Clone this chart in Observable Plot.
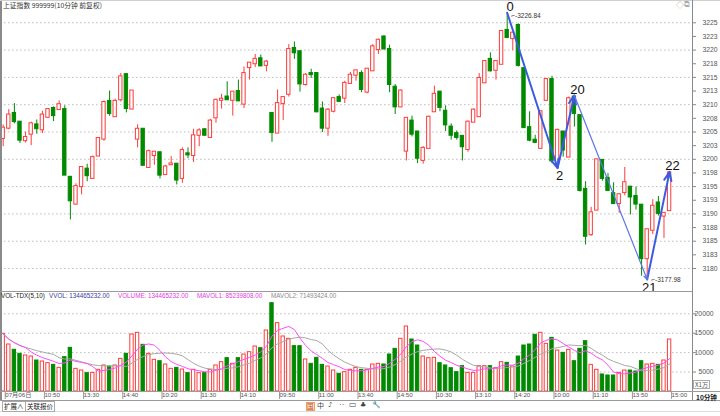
<!DOCTYPE html>
<html><head><meta charset="utf-8">
<script src="https://cdn.jsdelivr.net/npm/d3@7"></script>
<script src="https://cdn.jsdelivr.net/npm/@observablehq/plot@0.6"></script>
<style>
body{margin:0;background:#fff;}
#root{position:relative;width:720px;height:416px;overflow:hidden;background:#fff;font-family:"Liberation Sans","Noto Sans CJK SC",sans-serif;}
.abs{position:absolute;white-space:nowrap;line-height:1;}
.ln{position:absolute;}
#root svg{position:absolute;left:0;}
</style></head><body><div id="root"></div>
<script>
// ---- data (10-minute candles, 5 trading days, 120 bars) ----
const opens = [3203.8,3205.7,3208.4,3206.8,3203.4,3204.6,3206.3,3205.4,3207.7,3209.3,3209.1,3209.1,3196.7,3191.8,3195.0,3198.2,3196.5,3200.6,3203.7,3210.6,3207.8,3210.9,3215.5,3209.2,
3203.7,3205.5,3198.5,3200.7,3201.2,3197.2,3199.0,3199.1,3196.5,3201.0,3200.7,3204.4,3205.4,3204.0,3207.6,3210.8,3211.4,3210.8,3212.4,3210.1,3216.8,3217.5,3218.4,3217.2,
3208.4,3204.8,3210.2,3211.9,3220.3,3219.7,3213.7,3215.7,3215.7,3209.2,3205.7,3208.8,3211.3,3211.2,3213.9,3215.4,3215.7,3212.3,3216.2,3220.1,3222.4,3220.1,3213.2,3209.6,
3201.5,3207.0,3205.0,3199.8,3202.0,3208.7,3212.3,3208.8,3205.9,3204.7,3204.2,3201.8,3206.8,3207.8,3214.0,3218.3,3216.3,3217.4,3223.6,3222.1,3224.5,3216.6,3205.8,3203.5,
3202.0,3210.8,3214.6,3199.2,3205.0,3200.4,3211.4,3208.0,3194.5,3186.2,3190.7,3199.8,3196.5,3193.7,3191.9,3193.9,3194.9,3193.2,3191.6,3181.8,3187.0,3192.0,3189.6,3190.6];
const highs = [3206.3,3209.1,3210.2,3206.8,3205.0,3206.8,3207.2,3208.8,3209.3,3209.6,3210.7,3209.8,3196.8,3195.5,3198.6,3199.1,3200.6,3204.0,3210.7,3212.5,3211.0,3215.7,3215.7,3212.5,
3206.3,3205.5,3201.7,3201.3,3201.2,3198.9,3200.5,3199.1,3202.1,3202.1,3205.5,3205.6,3205.6,3207.3,3211.0,3211.9,3214.2,3212.3,3214.5,3216.9,3217.7,3219.2,3219.1,3218.1,
3208.4,3212.7,3211.3,3221.0,3221.5,3219.8,3215.7,3216.5,3215.7,3210.5,3209.3,3211.3,3211.8,3214.3,3215.9,3216.3,3216.2,3216.5,3221.0,3222.0,3222.6,3220.9,3213.7,3212.7,
3207.5,3207.9,3205.0,3202.3,3207.9,3213.4,3212.3,3209.8,3206.5,3205.2,3204.2,3207.0,3209.2,3215.7,3218.1,3219.5,3218.0,3223.6,3226.84,3223.1,3224.8,3216.6,3208.7,3204.4,
3208.7,3214.8,3215.2,3205.5,3205.1,3211.4,3211.7,3208.0,3195.9,3191.2,3199.9,3199.9,3197.4,3195.7,3193.7,3198.5,3194.9,3194.9,3191.6,3187.1,3192.6,3193.2,3190.2,3197.7];
const lows = [3202.3,3205.4,3206.5,3202.9,3203.0,3202.5,3204.6,3204.7,3207.5,3206.9,3209.0,3197.1,3188.9,3191.6,3193.5,3195.9,3196.4,3200.5,3203.3,3207.9,3207.8,3210.5,3208.5,3209.1,
3202.1,3198.9,3198.4,3198.9,3196.4,3197.1,3198.9,3195.3,3195.6,3200.1,3199.4,3202.3,3204.3,3203.8,3206.6,3209.2,3210.8,3207.9,3210.6,3209.3,3214.5,3216.8,3217.0,3216.0,
3203.1,3204.8,3207.1,3211.4,3218.3,3212.3,3213.4,3214.8,3208.5,3204.9,3204.2,3208.5,3210.5,3210.2,3213.7,3214.3,3212.2,3212.0,3216.2,3219.2,3220.1,3212.2,3208.2,3209.5,
3199.7,3204.1,3199.2,3199.1,3202.0,3208.7,3208.7,3205.1,3203.5,3203.5,3199.7,3201.3,3206.8,3207.8,3213.9,3216.0,3214.5,3217.4,3222.1,3219.9,3216.9,3205.8,3203.2,3202.9,
3202.0,3210.6,3199.2,3198.4,3200.4,3200.4,3205.9,3194.0,3184.3,3185.9,3190.6,3196.0,3194.2,3191.8,3190.1,3193.3,3189.8,3190.7,3178.6,3177.98,3186.2,3189.6,3185.5,3190.6];
const closes = [3205.7,3208.1,3206.9,3203.5,3204.0,3206.5,3205.6,3208.1,3209.1,3208.0,3210.0,3197.1,3192.4,3195.0,3198.5,3197.0,3200.3,3203.8,3210.4,3208.4,3210.6,3215.1,3209.3,3212.5,
3205.5,3198.9,3201.4,3201.3,3197.1,3198.6,3199.15,3196.2,3201.6,3200.8,3204.3,3205.2,3204.4,3207.0,3210.8,3211.0,3210.9,3212.3,3210.7,3215.7,3217.6,3218.3,3217.1,3217.8,
3204.9,3210.2,3211.3,3220.1,3219.5,3213.8,3215.4,3215.5,3208.7,3205.7,3209.0,3211.1,3210.6,3213.9,3215.4,3216.2,3212.8,3216.5,3220.6,3221.8,3220.2,3213.7,3209.6,3212.5,
3207.5,3204.6,3200.2,3202.0,3207.7,3211.9,3209.5,3206.3,3204.4,3204.0,3202.3,3206.8,3209.0,3214.8,3217.9,3216.2,3217.9,3223.4,3222.3,3223.1,3217.2,3205.8,3203.5,3203.1,
3208.7,3214.6,3199.7,3205.3,3201.7,3211.1,3208.4,3194.3,3185.9,3190.2,3199.9,3196.5,3194.3,3191.9,3193.5,3195.7,3193.1,3191.8,3181.8,3187.1,3191.4,3190.1,3190.1,3197.5];
// volume, unit: 万 (x1万)
const volumes = [14840,12100,10730,9700,9270,9000,7980,7720,7300,6860,6090,8840,11240,5830,5400,4720,4800,5580,6700,6430,6700,8400,9700,14670,
15100,12010,9700,8150,7800,6950,5830,6090,5660,4720,5580,4720,4720,5580,6700,7550,8580,7120,8580,9520,10120,11580,11150,15700,
22740,17590,14160,13560,11670,11670,8240,7120,8670,6860,6430,5400,4550,4980,5580,6090,5580,5580,6950,7120,6950,9520,10980,13560,
16730,13380,11840,9000,8580,8670,7300,6700,6000,4980,6520,4800,4800,6520,6520,6520,6000,7550,7380,6430,9000,11840,12100,14590,
15100,12270,13810,10550,9950,10720,7800,10980,12950,6860,5580,4380,4120,4120,4800,5400,5400,5150,7800,6950,7120,6860,7980,13380];

const priceTicks = [3180,3182.5,3185,3187.5,3190,3192.5,3195,3197.5,3200,3202.5,3205,3207.5,3210,3212.5,3215,3217.5,3220,3222.5,3225];
const priceTickLabels = ["3180","3183","3185","3188","3190","3193","3195","3198","3200","3203","3205","3208","3210","3213","3215","3218","3220","3223","3225"];
const priceGrid = [3180,3185,3190,3195,3200,3205,3210,3215,3220,3225];
const volTicks = [5000,10000,15000,20000];
const volTickLabels = ["5000","10000","15000","20000"];
const timeTicks = [0,7,14,21,28,35,42,49,56,63,70,77,84,91,98,105,112,119];
const timeLabels = ["07月06日","10:50","13:30","14:40","10:20","11:30","14:10","09:50","11:00","13:40","14:50","10:30","13:10","14:20","10:00","11:10","13:50","15:00"];

// zig-zag wave marks
const waveLabels = ["0","2","20","21","22"];
const waveIdx = [90,99,102,115,119];
const wavePrice = [3226.84,3198.4,3211.7,3177.98,3197.7];
const waveKind = ["H","L","H","L","H"];

const RED = "#ff3b3b", GREEN = "#008a00";

// ---- derived ----
const bars = opens.map((o,i)=>({i, open:o, high:highs[i], low:lows[i], close:closes[i], vol:volumes[i], up: closes[i] >= o}));
function ma(n){ return volumes.map((v,i)=>{ const s = volumes.slice(Math.max(0,i-n+1), i+1); return {i, v: d3.mean(s)}; }); }
const ma5 = ma(5), ma10 = ma(10);
const waves = waveLabels.map((t,k)=>({t, i:waveIdx[k], p:wavePrice[k], kind:waveKind[k]}));
const segs = waves.slice(1).map((w,k)=>({k, x1:waves[k].i, y1:waves[k].p, x2:w.i, y2:w.p}));
const priceLab = new Map(priceTicks.map((t,k)=>[t, priceTickLabels[k]]));
const volLab = new Map(volTicks.map((t,k)=>[t, volTickLabels[k]]));
const timeLab = new Map(timeTicks.map((t,k)=>[t, timeLabels[k]]));
const hw = 0.3;

const xScale = {domain:[-0.48, 123.09], range:[0, 692], axis:null};
const baseStyle = {fontFamily:"'Liberation Sans','Noto Sans CJK SC',sans-serif", fontSize:"7px", color:"#555", background:"transparent", overflow:"visible"};

const main = Plot.plot({
  width:720, height:291, marginLeft:0, marginRight:28, marginTop:0, marginBottom:0,
  x: xScale,
  y: {domain:[3175.79, 3229.08], range:[291, 0]},
  style: baseStyle,
  marks: [
    Plot.ruleY(priceGrid, {stroke:"#bdbdbd", strokeDasharray:"1.5,2.5"}),
    Plot.axisY(priceTicks, {anchor:"right", tickSize:3, tickPadding:7, tickFormat:d=>priceLab.get(d), fill:"#555", stroke:"#888", fontSize:6.8}),
    Plot.ruleX(bars, {x:"i", y1:"low", y2:"high", stroke:d=>d.up?RED:GREEN, strokeWidth:1}),
    Plot.rect(bars, {x1:d=>d.i-hw, x2:d=>d.i+hw, y1:"open", y2:"close", fill:d=>d.up?"#fff":GREEN, stroke:d=>d.up?RED:GREEN, strokeWidth:1, insetTop:-0.5, insetBottom:-0.5}),
    Plot.arrow(segs.filter(s=>s.k!==2), {x1:"x1", y1:"y1", x2:"x2", y2:"y2", stroke:"#3d5be0", strokeWidth:2, headLength:7, headAngle:45}),
    Plot.arrow(segs.filter(s=>s.k===2), {x1:"x1", y1:"y1", x2:"x2", y2:"y2", stroke:"#5b76e8", strokeWidth:1.2, headLength:6, headAngle:45}),
    Plot.text(waves.filter(w=>w.kind==="H"), {x:"i", y:"p", text:"t", dx:3, dy:-6, fontSize:13, fill:"#111", fontFamily:"'Liberation Sans',sans-serif"}),
    Plot.text(waves.filter(w=>w.kind==="L"), {x:"i", y:"p", text:"t", dx:2, dy:8, fontSize:13, fill:"#111", fontFamily:"'Liberation Sans',sans-serif"}),
    Plot.text([waves[0]], {x:"i", y:"p", text:d=>"⌐-" + d.p.toFixed(2), dx:4, dy:3.5, textAnchor:"start", fontSize:6.5, fill:"#333"}),
    Plot.text([waves[3]], {x:"i", y:"p", text:d=>"⌐-" + d.p.toFixed(2), dx:4, dy:0, textAnchor:"start", fontSize:6.5, fill:"#333"})
  ]
});
main.style.top = "0px";

const vol = Plot.plot({
  width:720, height:109, marginLeft:0, marginRight:28, marginTop:0, marginBottom:9,
  x: xScale,
  y: {domain:[0, 25740], range:[100, 0]},
  style: baseStyle,
  marks: [
    Plot.ruleY(volTicks, {stroke:"#bdbdbd", strokeDasharray:"1.5,2.5"}),
    Plot.axisY(volTicks, {anchor:"right", tickSize:3, tickPadding:18, textAnchor:"end", tickFormat:d=>volLab.get(d), fill:"#555", stroke:"#888", fontSize:6.8}),
    Plot.rect(bars, {x1:d=>d.i-hw, x2:d=>d.i+hw, y1:0, y2:"vol", fill:d=>d.up?"#fff":GREEN, stroke:d=>d.up?RED:GREEN, strokeWidth:1}),
    Plot.line(ma10, {x:"i", y:"v", stroke:"#a8a8a8", strokeWidth:1}),
    Plot.line(ma5, {x:"i", y:"v", stroke:"#ff4cff", strokeWidth:1}),
    Plot.axisX(timeTicks, {anchor:"bottom", tickSize:8, tickPadding:-7, textAnchor:"start", dx:2, tickFormat:d=>timeLab.get(d), fill:"#555", stroke:"#999", fontSize:6.2})
  ]
});
vol.style.top = "291px";

const root = document.getElementById("root");
root.appendChild(main);
root.appendChild(vol);

function add(html, css){ const e=document.createElement("div"); e.className="abs"; e.style.cssText=css; e.innerHTML=html; root.appendChild(e); return e; }
function line(css){ const e=document.createElement("div"); e.className="ln"; e.style.cssText=css; root.appendChild(e); }

// frame lines
line("left:0;top:0;width:2px;height:400px;background:#8a8a8a;");
line("left:0;top:0;width:720px;height:1px;background:#d0d0d0;");
line("left:692px;top:0;width:1px;height:401px;background:#8a8a8a;");
line("left:0;top:291px;width:692px;height:1px;background:#9a9a9a;");
line("left:0;top:391px;width:720px;height:1px;background:#9a9a9a;");
line("left:0;top:400px;width:720px;height:1px;background:#9a9a9a;");
line("left:0;top:411px;width:720px;height:1px;background:#d8dde6;");

// texts
add("上证指数 999999(10分钟 前复权)", "left:3px;top:2px;font-size:6.8px;color:#333;font-family:'Noto Sans CJK SC',sans-serif;");
add("◇", "left:676px;top:2px;font-size:8px;color:#aaa;");
add("⧉", "left:684px;top:1px;font-size:8px;color:#aaa;font-family:'DejaVu Sans',sans-serif;");
const hdr = "top:293px;font-size:6.3px;";
add("VOL-TDX(5,10)", "left:1px;color:#222;"+hdr);
add("VVOL: 134465232.00", "left:49px;color:#3b3b9a;"+hdr);
add("VOLUME: 134465232.00", "left:118px;color:#e03ce0;"+hdr);
add("MAVOL1: 85239808.00", "left:197px;color:#e03ce0;"+hdr);
add("MAVOL2: 71493424.00", "left:271px;color:#8c8c8c;"+hdr);
add("X1万", "left:693px;top:380px;font-size:6.2px;line-height:7px;color:#555;border:1px solid #aaa;padding:0 1px;height:7px;font-family:'Noto Sans CJK SC',sans-serif;");
add("10分钟", "left:696px;top:393.5px;font-size:6.6px;line-height:7px;font-weight:bold;color:#222;font-family:'Noto Sans CJK SC',sans-serif;");
add("扩展∧", "left:2px;top:401px;font-size:6.5px;color:#222;border:1px solid #aaa;padding:1px 1px;height:7px;font-family:'Noto Sans CJK SC',sans-serif;");
add("关联报价", "left:25px;top:401px;font-size:6.5px;color:#222;border:1px solid #aaa;padding:1px 1px;height:7px;font-family:'Noto Sans CJK SC',sans-serif;");
add("国", "left:306px;top:402px;font-size:6.5px;color:#c04000;border:1px solid #f0a060;background:#fde8d8;height:7px;font-family:'Noto Sans CJK SC',sans-serif;");
add("中", "left:317px;top:402px;font-size:7px;color:#444;font-family:'Noto Sans CJK SC',sans-serif;");
add("♪", "left:328px;top:402px;font-size:7px;color:#444;font-family:'DejaVu Sans',sans-serif;");
add("··", "left:339px;top:401px;font-size:8px;color:#444;");
add("▭", "left:349px;top:401px;font-size:8px;color:#444;font-family:'DejaVu Sans',sans-serif;");
add("♣", "left:360px;top:402px;font-size:7px;color:#444;font-family:'DejaVu Sans',sans-serif;");
add("🔧", "left:372px;top:402px;font-size:7px;color:#444;font-family:'DejaVu Sans',sans-serif;");
</script></body></html>
